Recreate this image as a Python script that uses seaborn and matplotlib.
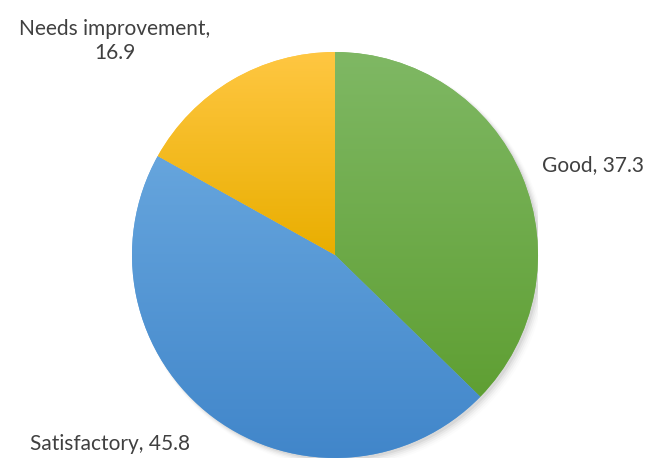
import numpy as np
import matplotlib
matplotlib.use("Agg")
import matplotlib.pyplot as plt
import seaborn as sns
from matplotlib.colors import LinearSegmentedColormap

# -------------------------
# Data
# -------------------------
categories = ["Good", "Satisfactory", "Needs improvement"]
values = [37.3, 45.8, 16.9]
label_texts = ["Good, 37.3", "Satisfactory, 45.8", "Needs improvement,\n16.9"]

# gradient colours (top, bottom) per slice
top_colors = ["#7fb864", "#66a5dd", "#ffc742"]
bottom_colors = ["#5f9f33", "#4186ca", "#e9ae00"]

sns.set_theme(style="white")
plt.rcParams["font.family"] = ["Lato", "DejaVu Sans"]

W, H = 654, 459
fig = plt.figure(figsize=(W / 100, H / 100), dpi=100)
fig.patch.set_facecolor("white")

cx, cy, r = 335, 255, 203
ax = fig.add_axes([(cx - r) / W, (H - cy - r) / H, 2 * r / W, 2 * r / H])
ax.set_xlim(-1, 1)
ax.set_ylim(-1, 1)
ax.set_aspect("equal")
ax.axis("off")

# soft shadow
for i, a in enumerate(np.linspace(0.05, 0.012, 5)):
    sh = plt.Circle((0.012 + i * 0.004, -0.012 - i * 0.004), 1.0 + i * 0.004,
                    color="black", alpha=a, lw=0, zorder=0)
    ax.add_patch(sh)

wedges, _ = ax.pie(values, startangle=90, counterclock=False, radius=1,
                   colors=top_colors, wedgeprops=dict(linewidth=0))

# -------------------------
# Vertical gradient per slice
# -------------------------
grad = np.linspace(0, 1, 256).reshape(-1, 1)
for w, c0, c1 in zip(wedges, top_colors, bottom_colors):
    w.set_zorder(1)
    bb = w.get_path().get_extents(w.get_transform() - ax.transData)
    cmap = LinearSegmentedColormap.from_list("g", [c0, c1])
    im = ax.imshow(grad, cmap=cmap, aspect="auto", origin="upper",
                   extent=[bb.x0, bb.x1, bb.y0, bb.y1], zorder=2)
    im.set_clip_path(w)
ax.set_xlim(-1, 1)
ax.set_ylim(-1, 1)

# -------------------------
# Labels
# -------------------------
tc = "#404040"
fs = 15
fig.text(542 / W, 1 - 165 / H, label_texts[0], ha="left", va="center",
         fontsize=fs, color=tc)
fig.text(30 / W, 1 - 444 / H, label_texts[1], ha="left", va="center",
         fontsize=fs, color=tc)
fig.text(115 / W, 1 - 41 / H, label_texts[2], ha="center", va="center",
         fontsize=fs, color=tc, linespacing=1.25, multialignment="center")

fig.savefig("out.png", dpi=100)
